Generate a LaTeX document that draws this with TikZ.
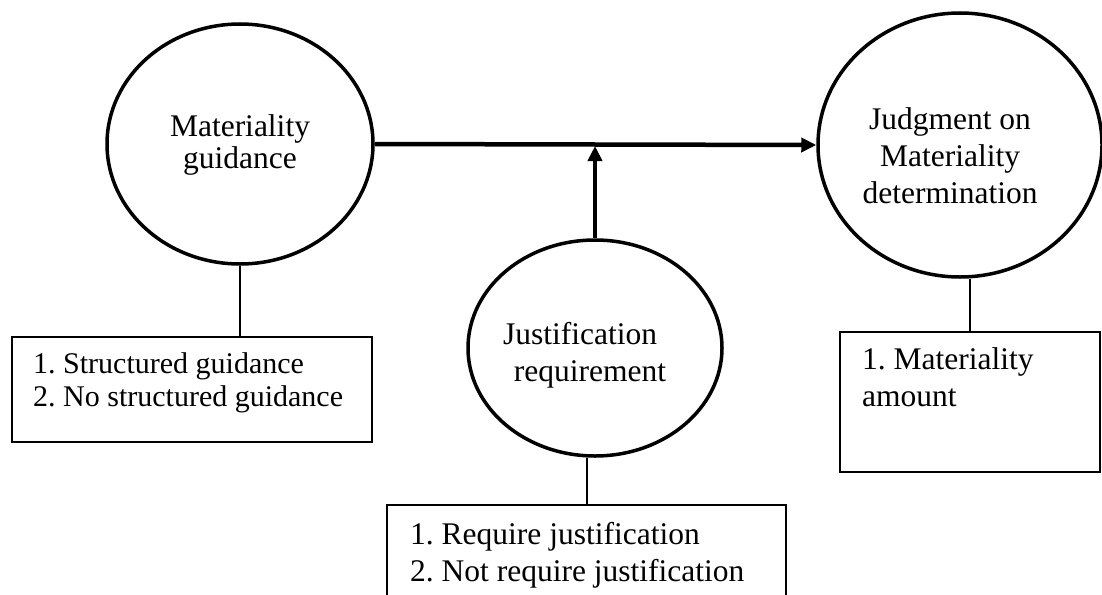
\documentclass[tikz,border=0pt]{standalone}
\usepackage{fontspec}
\setmainfont{Liberation Serif}
\usetikzlibrary{shapes.geometric,arrows.meta}
\frenchspacing
\begin{document}
\begin{tikzpicture}[x=1pt,y=-1pt,>={Triangle[length=15pt,width=14pt]},
  bubble/.style={draw,ellipse,line width=3.5pt,inner sep=0pt},
  bubtxt/.style={inner sep=0pt,align=center,font=\fontsize{31.5}{37}\selectfont},
  box/.style={draw,rectangle,line width=2pt,inner sep=0pt},
  items/.style={anchor=north west,inner sep=0pt,align=left,font=\fontsize{31.5}{37}\selectfont},
  link/.style={line width=2pt},
  flow/.style={->,line width=4.5pt}]
 \useasboundingbox (0,0) rectangle (1102,594);
 % the three bubbles
 \node[bubble,minimum width=266,minimum height=240] (guide) at (240,144) {};
 \node[bubtxt,font=\fontsize{31.5}{32}\selectfont] (guidetxt) at (240,145) {Materiality\\guidance};
 \node[bubble,minimum width=284,minimum height=264] (judge) at (960,145) {};
 \node[bubtxt] (judgetxt) at (950,156) {Judgment on\\Materiality\\determination};
 \node[bubble,minimum width=254,minimum height=216] (justif) at (595,348) {};
 \node[bubtxt] (justiftxt) at (580,355) {Justification\\\hspace*{20pt}requirement};
 % boxes with their lists
 \node[box,minimum width=360,minimum height=105] (guidebox) at (192,389.5) {};
 \node[items,font=\fontsize{30}{33}\selectfont] (guidelist) at (33,352) {1. Structured guidance\\2. No structured guidance};
 \node[box,minimum width=260,minimum height=140] (judgebox) at (970,402) {};
 \node[items] (judgelist) at (862,347) {1. Materiality\\amount};
 \node[box,minimum width=399,minimum height=115] (justifbox) at (586.5,562.5) {};
 \node[items] (justiflist) at (410,522) {1. Require justification\\2. Not require justification};
 % connectors
 \draw[link] (guide.south) -- (guide.south |- guidebox.north);
 \draw[link] (judgebox.north) -- (judgebox.north |- judge.south);
 \draw[link] (justifbox.north) -- (justifbox.north |- justif.south);
 \draw[flow] (guide.east) -- (judge.west);
 \draw[flow,shorten >=2pt] (justif.north) -- (justif.north |- guide.east);
\end{tikzpicture}
\end{document}
